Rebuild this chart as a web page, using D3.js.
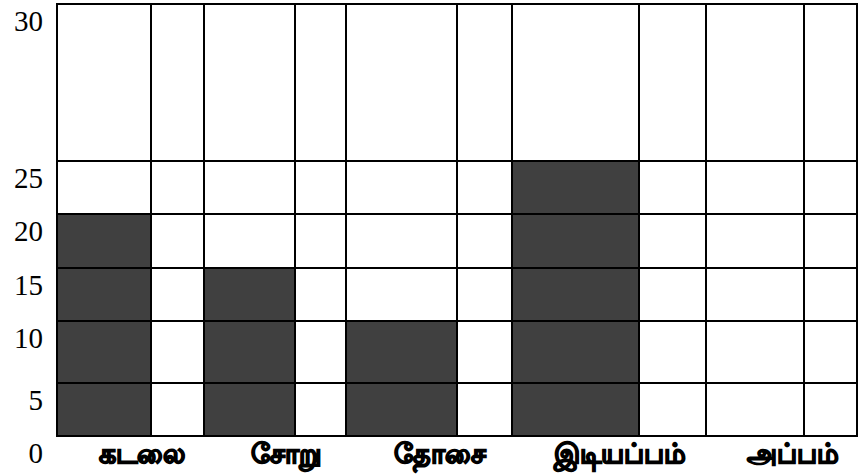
<!DOCTYPE html>
<html>
<head>
<meta charset="utf-8">
<script src="https://cdn.jsdelivr.net/npm/d3@7"></script>
<style>
  body { margin: 0; background: #fff; }
  svg { display: block; }
</style>
</head>
<body>
<svg></svg>
<script>
// data
const foods = ["கடலை", "சோறு", "தோசை", "இடியப்பம்", "அப்பம்"];
const counts = [20, 15, 10, 25, 0];
const yTicks = [0, 5, 10, 15, 20, 25, 30];

// layout (the grid is drawn like a table: rows and columns are not even)
const width = 864;
const height = 474;
const left = 57;
const rowLines = [436, 383, 321, 268, 214, 161, 4];   // pixel row for each y tick
const barWidths = [94, 91, 111, 127, 98];
const gapWidths = [53, 51, 55, 67, 53];

const svg = d3.select("svg")
  .attr("width", width)
  .attr("height", height);

// column edges
const colLefts = [];
let cx = left;
foods.forEach((f, i) => {
  colLefts.push(cx);
  cx += barWidths[i] + gapWidths[i];
});
const right = cx;

// scales
const xScale = d3.scaleOrdinal().domain(foods).range(colLefts);
const wScale = d3.scaleOrdinal().domain(foods).range(barWidths);
const gScale = d3.scaleOrdinal().domain(foods).range(gapWidths);
const yScale = d3.scaleLinear().domain(yTicks).range(rowLines);

// bars
svg.selectAll("rect.bar")
  .data(foods)
  .enter()
  .append("rect")
  .attr("class", "bar")
  .attr("x", (d) => xScale(d))
  .attr("y", (d, i) => yScale(counts[i]))
  .attr("width", (d) => wScale(d))
  .attr("height", (d, i) => yScale(0) - yScale(counts[i]))
  .attr("fill", "#404040");

// horizontal grid lines
svg.selectAll("line.h")
  .data(yTicks)
  .enter()
  .append("line")
  .attr("x1", left - 1)
  .attr("x2", right + 1)
  .attr("y1", (d) => yScale(d))
  .attr("y2", (d) => yScale(d))
  .attr("stroke", "#000")
  .attr("stroke-width", 2);

// vertical grid lines
const vEdges = [];
foods.forEach((f) => {
  vEdges.push(xScale(f));
  vEdges.push(xScale(f) + wScale(f));
});
vEdges.push(right);

svg.selectAll("line.v")
  .data(vEdges)
  .enter()
  .append("line")
  .attr("x1", (d) => d)
  .attr("x2", (d) => d)
  .attr("y1", yScale(30) - 1)
  .attr("y2", yScale(0) + 1)
  .attr("stroke", "#000")
  .attr("stroke-width", 2);

// y labels
svg.selectAll("text.ylab")
  .data(yTicks)
  .enter()
  .append("text")
  .attr("x", 43)
  .attr("y", (d) => yScale(d) + 27)
  .attr("text-anchor", "end")
  .style("font-family", "'Liberation Serif', serif")
  .style("font-size", "29px")
  .text((d) => d);

// x labels (heavy, the Tamil fallback font has no bold so thicken with a stroke)
svg.selectAll("text.xlab")
  .data(foods)
  .enter()
  .append("text")
  .attr("x", (d) => xScale(d) + (wScale(d) + gScale(d)) / 2 + 11)
  .attr("y", 463)
  .attr("text-anchor", "middle")
  .attr("stroke", "#000")
  .attr("stroke-width", 1.4)
  .style("font-family", "'Noto Sans', sans-serif")
  .style("font-weight", "bold")
  .style("font-size", "27px")
  .text((d) => d);
</script>
</body>
</html>
